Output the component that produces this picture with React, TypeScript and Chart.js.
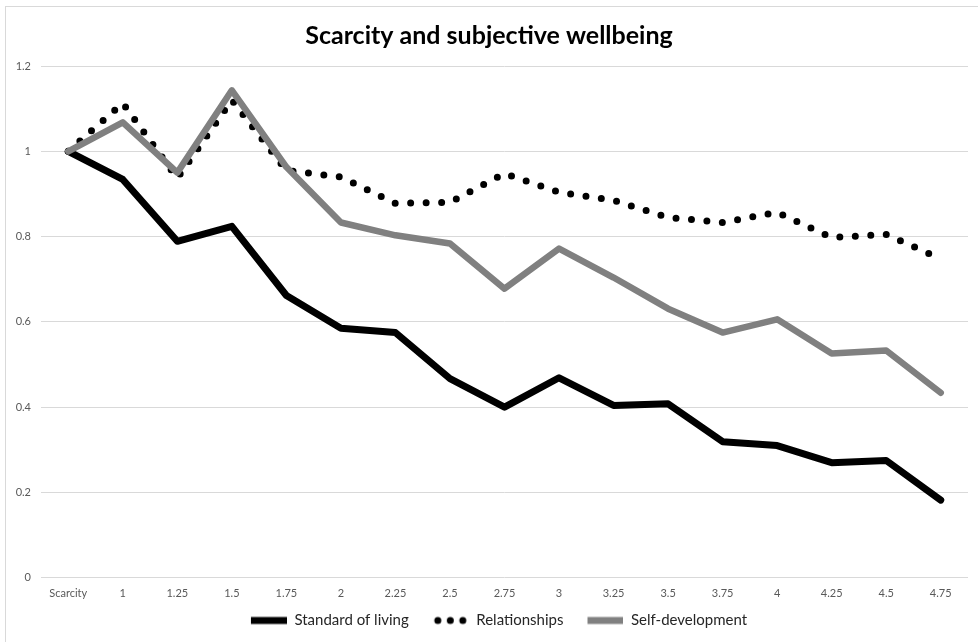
import { useEffect, useRef } from "react";
import { Chart, registerables } from "chart.js";

Chart.register(...registerables);

const categories = [
  "Scarcity", "1", "1.25", "1.5", "1.75", "2", "2.25", "2.5", "2.75",
  "3", "3.25", "3.5", "3.75", "4", "4.25", "4.5", "4.75",
];

const standardOfLiving = [
  1.0, 0.934, 0.789, 0.824, 0.662, 0.585, 0.575, 0.467, 0.4,
  0.469, 0.404, 0.408, 0.319, 0.31, 0.27, 0.275, 0.182,
];

const relationships = [
  1.0, 1.113, 0.937, 1.12, 0.955, 0.94, 0.878, 0.88, 0.948,
  0.904, 0.885, 0.845, 0.833, 0.857, 0.798, 0.805, 0.748,
];

const selfDevelopment = [
  1.0, 1.068, 0.95, 1.143, 0.963, 0.833, 0.803, 0.784, 0.678,
  0.772, 0.704, 0.631, 0.575, 0.606, 0.526, 0.533, 0.434,
];

const seriesNames = ["Standard of living", "Relationships", "Self-development"];

const yMin = 0;
const yMax = 1.2;
const yStep = 0.2;

const FONT = "Lato, 'Liberation Sans', sans-serif";
const GRAY = "#808080";
const SWATCH_W = 56;

// Legend swatches drawn on small canvases; the blank left part spaces the items.
function makeSwatch(kind: "solid" | "dots", color: string): HTMLCanvasElement {
  const c = document.createElement("canvas");
  c.width = SWATCH_W;
  c.height = 10;
  const ctx = c.getContext("2d")!;
  if (kind === "solid") {
    ctx.strokeStyle = color;
    ctx.lineWidth = 7;
    ctx.lineCap = "butt";
    ctx.beginPath();
    ctx.moveTo(20, 5);
    ctx.lineTo(SWATCH_W, 5);
    ctx.stroke();
  } else {
    ctx.fillStyle = color;
    for (let i = 0; i < 3; i++) {
      ctx.beginPath();
      ctx.arc(25 + i * 12.5, 5, 3.5, 0, Math.PI * 2);
      ctx.fill();
    }
  }
  return c;
}

export default function App() {
  const canvasRef = useRef<HTMLCanvasElement | null>(null);

  useEffect(() => {
    const canvas = canvasRef.current;
    if (!canvas) return;

    const swatches = [
      makeSwatch("solid", "#000000"),
      makeSwatch("dots", "#000000"),
      makeSwatch("solid", GRAY),
    ];

    const chart = new Chart(canvas, {
      type: "line",
      data: {
        labels: categories,
        datasets: [
          {
            label: seriesNames[0],
            data: standardOfLiving,
            borderColor: "#000000",
            backgroundColor: "#000000",
            borderWidth: 7,
            borderJoinStyle: "round",
            borderCapStyle: "round",
            pointRadius: 0,
            tension: 0,
            order: 2,
            pointStyle: swatches[0] as any,
          },
          {
            label: seriesNames[1],
            data: relationships,
            borderColor: "#000000",
            backgroundColor: "#000000",
            borderWidth: 7,
            borderDash: [0, 15.5],
            borderCapStyle: "round",
            borderJoinStyle: "round",
            pointRadius: 0,
            tension: 0,
            order: 1,
            pointStyle: swatches[1] as any,
          },
          {
            label: seriesNames[2],
            data: selfDevelopment,
            borderColor: GRAY,
            backgroundColor: GRAY,
            borderWidth: 6.5,
            borderJoinStyle: "round",
            borderCapStyle: "round",
            pointRadius: 0,
            tension: 0,
            order: 0,
            pointStyle: swatches[2] as any,
          },
        ],
      },
      options: {
        animation: false,
        responsive: false,
        maintainAspectRatio: false,
        layout: { padding: { left: 10, right: 10, top: 0, bottom: 4 } },
        plugins: {
          title: {
            display: true,
            text: "Scarcity and subjective wellbeing",
            color: "#000000",
            font: { family: FONT, size: 25, weight: "bold" },
            padding: { top: 21, bottom: 15 },
          },
          legend: {
            position: "bottom",
            labels: {
              usePointStyle: true,
              pointStyleWidth: SWATCH_W,
              boxHeight: 10,
              padding: 4,
              color: "#262626",
              font: { family: FONT, size: 15 },
              sort: (a: any, b: any) => a.datasetIndex - b.datasetIndex,
            },
          },
          tooltip: { enabled: false },
        },
        scales: {
          x: {
            offset: true,
            grid: { display: false, drawTicks: false },
            border: { display: false },
            ticks: {
              autoSkip: false,
              maxRotation: 0,
              minRotation: 0,
              padding: 9,
              color: "#595959",
              font: { family: FONT, size: 11 },
            },
          },
          y: {
            min: yMin,
            max: yMax,
            grid: { color: "#d9d9d9", lineWidth: 1, drawTicks: false },
            border: { display: false },
            ticks: {
              stepSize: yStep,
              padding: 10,
              color: "#595959",
              font: { family: FONT, size: 11 },
              callback: (v: any) => String(parseFloat(Number(v).toFixed(1))),
            },
            afterFit: (scale: any) => {
              scale.width = 31;
            },
          },
        },
      },
    });

    return () => chart.destroy();
  }, []);

  return (
    <div
      style={{
        position: "fixed",
        left: 0,
        top: 0,
        width: 978,
        height: 642,
        background: "#ffffff",
        overflow: "hidden",
      }}
    >
      <div
        style={{
          position: "absolute",
          left: 5,
          top: 6,
          width: 990,
          height: 660,
          borderTop: "1px solid #d9d9d9",
          borderLeft: "1px solid #d9d9d9",
        }}
      />
      <canvas
        ref={canvasRef}
        width={978}
        height={642}
        style={{ position: "absolute", left: 0, top: 0, width: 978, height: 642 }}
      />
    </div>
  );
}
